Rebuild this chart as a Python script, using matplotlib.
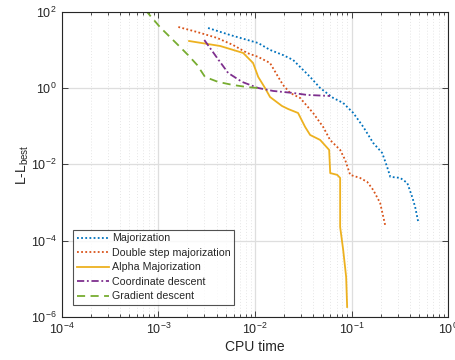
import matplotlib
matplotlib.use("Agg")
import matplotlib.pyplot as plt
from matplotlib.ticker import LogLocator, NullFormatter, NullLocator

plt.rcParams['font.family'] = ['Liberation Sans', 'DejaVu Sans']
plt.rcParams['mathtext.fontset'] = 'custom'
plt.rcParams['mathtext.rm'] = 'Liberation Sans'
plt.rcParams['mathtext.it'] = 'Liberation Sans:italic'

# Data
maj_t = [3.27e-3, 5.52e-3, 1.08e-2, 1.43e-2, 1.95e-2, 2.48e-2, 2.93e-2, 3.72e-2, 4.72e-2,
         6.44e-2, 8.17e-2, 0.104, 0.132, 0.167, 0.207, 0.233, 0.251, 0.318, 0.376, 0.423, 0.454, 0.488]
maj_l = [38.0, 24.9, 15.3, 10.1, 7.4, 5.5, 3.6, 1.97, 1.01,
         0.553, 0.409, 0.223, 0.096, 0.0365, 0.0199, 8.5e-3, 4.7e-3, 4.4e-3, 3.25e-3, 1.39e-3, 7.6e-4, 3.1e-4]

dbl_t = [1.61e-3, 2.52e-3, 4.06e-3, 5.93e-3, 8.28e-3, 1.08e-2, 1.43e-2, 1.69e-2, 1.95e-2, 2.31e-2,
         2.93e-2, 3.99e-2, 5.07e-2, 5.98e-2, 7.6e-2, 8.57e-2, 9.65e-2, 0.122, 0.145, 0.167, 0.197, 0.222]
dbl_l = [40.4, 29.8, 20.8, 13.6, 8.4, 6.6, 4.58, 2.22, 1.21, 0.748,
         0.553, 0.223, 0.096, 0.0437, 0.0239, 0.013, 5.3e-3, 4.4e-3, 3.45e-3, 2.13e-3, 9.7e-4, 2.56e-4]

alp_t = [2.08e-3, 4.36e-3, 7.54e-3, 9.55e-3, 1.08e-2, 1.27e-2, 1.43e-2, 1.90e-2, 2.20e-2, 2.79e-2,
         3.30e-2, 3.72e-2, 4.72e-2, 5.85e-2, 6.0e-2, 7.08e-2, 7.6e-2, 7.6e-2, 8.17e-2, 8.77e-2, 8.98e-2]
alp_l = [17.3, 12.8, 8.4, 4.58, 1.97, 1.01, 0.587, 0.341, 0.284, 0.223,
         0.096, 0.059, 0.0437, 0.0239, 5.9e-3, 5.3e-3, 4.4e-3, 2.27e-4, 5.7e-5, 1.1e-5, 1.8e-6]

crd_t = [2.99e-3, 4.06e-3, 5.27e-3, 7.35e-3, 1.08e-2, 1.54e-2, 2.48e-2, 3.46e-2, 5.98e-2]
crd_l = [18.4, 6.2, 2.51, 1.46, 1.01, 0.845, 0.748, 0.664, 0.624]

grd_t = [7.36e-4, 7.8e-4, 1.04e-3, 1.32e-3, 1.68e-3, 2.03e-3, 2.52e-3, 3.04e-3, 4.15e-3, 5.93e-3, 8.28e-3, 1.21e-2]
grd_l = [112, 94, 40, 22, 12, 7.4, 4.06, 1.97, 1.46, 1.21, 1.07, 0.98]

labels = ['Majorization', 'Double step majorization', 'Alpha Majorization',
          'Coordinate descent', 'Gradient descent']
colors = ['#0072BD', '#D95319', '#EDB120', '#7E2F8E', '#77AC30']

fig = plt.figure(figsize=(4.55, 3.6), dpi=100)
ax = fig.add_axes([0.1356, 0.1203, 0.8497, 0.8464])

lw = 1.3
ax.plot(maj_t, maj_l, color=colors[0], lw=lw, linestyle=(0, (1, 1.3)), label=labels[0])
ax.plot(dbl_t, dbl_l, color=colors[1], lw=lw, linestyle=(0, (1, 1.3)), label=labels[1])
ax.plot(alp_t, alp_l, color=colors[2], lw=lw, linestyle='-', label=labels[2])
ax.plot(crd_t, crd_l, color=colors[3], lw=lw, linestyle=(0, (4, 1.5, 1, 1.5)), label=labels[3])
ax.plot(grd_t, grd_l, color=colors[4], lw=lw, linestyle=(0, (4.5, 3)), label=labels[4])

ax.set_xscale('log')
ax.set_yscale('log')
ax.set_xlim(1e-4, 1)
ax.set_ylim(1e-6, 1e2)

ax.xaxis.set_major_locator(LogLocator(base=10, numticks=10))
ax.xaxis.set_minor_locator(LogLocator(base=10, subs=range(2, 10), numticks=100))
ax.xaxis.set_minor_formatter(NullFormatter())
ax.yaxis.set_major_locator(LogLocator(base=100, numticks=10))
ax.yaxis.set_minor_locator(NullLocator())

ax.grid(which='major', color='#dedede', linestyle='-', linewidth=0.9)
ax.grid(which='minor', axis='x', color='#e6e6e6', linestyle=(0, (1, 2)), linewidth=0.7)
ax.set_axisbelow(True)

for s in ax.spines.values():
    s.set_color('#262626')
    s.set_linewidth(0.8)
ax.tick_params(which='both', direction='in', top=True, right=True, colors='#262626',
               labelcolor='#262626', labelsize=9, width=0.6)
ax.tick_params(which='major', length=4)
ax.tick_params(which='minor', length=2.5)

ax.set_xlabel('CPU time', fontsize=10, color='#262626', labelpad=2)
ax.set_ylabel('L-L$_{\\mathrm{best}}$', fontsize=10, color='#262626', labelpad=0)

leg = ax.legend(loc='lower left', bbox_to_anchor=(0.029, 0.038), borderaxespad=0,
                fontsize=7.7, frameon=True, fancybox=False, handlelength=3.0,
                handletextpad=0.3, labelspacing=0.42, borderpad=0.35)
leg.get_frame().set_edgecolor('#262626')
leg.get_frame().set_linewidth(0.8)
for t in leg.get_texts():
    t.set_color('#262626')

fig.savefig('out.png', dpi=100)
